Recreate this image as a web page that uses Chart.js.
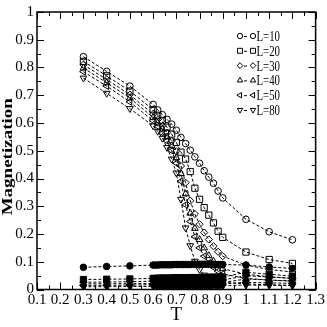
<!DOCTYPE html>
<html><head><meta charset="utf-8">
<script src="https://cdn.jsdelivr.net/npm/chart.js@4/dist/chart.umd.min.js"></script>
<style>html,body{margin:0;padding:0;background:#fff;overflow:hidden}</style>
</head><body>
<canvas id="c" width="327" height="327" style="width:327px;height:327px;display:block"></canvas>
<script>
// Temperatures (open-symbol series)
const T = [0.3,0.4,0.5,0.6,0.62,0.64,0.66,0.68,0.7,0.72,0.74,0.76,0.78,0.8,0.82,0.84,0.86,0.88,0.9,1.0,1.1,1.2];
// Temperatures (filled-symbol series, finer grid)
const TF = [0.3,0.4,0.5,
  0.60,0.61,0.62,0.63,0.64,0.65,0.66,0.67,0.68,0.69,
  0.70,0.71,0.72,0.73,0.74,0.75,0.76,0.77,0.78,0.79,
  0.80,0.81,0.82,0.83,0.84,0.85,0.86,0.87,0.88,0.89,
  0.90,1.0,1.1,1.2];
// Open-symbol series (legend)
const L10 = [0.839,0.786,0.733,0.667,0.647,0.630,0.613,0.596,0.574,0.548,0.526,0.502,0.478,0.455,0.428,0.405,0.383,0.355,0.330,0.253,0.208,0.179];
const L20 = [0.822,0.770,0.715,0.648,0.628,0.608,0.585,0.560,0.530,0.495,0.470,0.425,0.365,0.325,0.295,0.268,0.240,0.210,0.188,0.135,0.108,0.094];
const L30 = [0.810,0.757,0.702,0.632,0.612,0.590,0.565,0.535,0.498,0.445,0.385,0.320,0.272,0.235,0.205,0.180,0.156,0.136,0.120,0.088,0.072,0.063];
const L40 = [0.798,0.745,0.690,0.620,0.600,0.578,0.550,0.518,0.475,0.418,0.345,0.275,0.220,0.180,0.150,0.122,0.102,0.086,0.075,0.055,0.046,0.040];
const L50 = [0.785,0.733,0.676,0.608,0.588,0.564,0.535,0.500,0.455,0.390,0.305,0.245,0.190,0.150,0.120,0.096,0.080,0.066,0.056,0.040,0.034,0.030];
const L80 = [0.762,0.707,0.652,0.590,0.570,0.545,0.512,0.470,0.420,0.325,0.222,0.158,0.102,0.072,0.052,0.041,0.035,0.030,0.026,0.020,0.017,0.015];
// Filled-symbol series (no legend)
const F10 = [0.080,0.083,0.085,
  0.088,0.088,0.088,0.089,0.089,0.089,0.089,0.089,0.089,0.090,
  0.090,0.090,0.090,0.090,0.090,0.090,0.090,0.091,0.091,0.091,
  0.091,0.091,0.091,0.091,0.091,0.091,0.090,0.090,0.090,0.090,
  0.090,0.088,0.081,0.076];
const F20 = [0.036,0.037,0.038,
  0.040,0.040,0.040,0.041,0.041,0.041,0.041,0.041,0.041,0.042,
  0.042,0.042,0.042,0.042,0.042,0.042,0.043,0.043,0.043,0.043,
  0.043,0.043,0.043,0.043,0.044,0.044,0.044,0.044,0.044,0.045,
  0.045,0.062,0.055,0.048];
const F30 = [0.026,0.027,0.028,
  0.030,0.030,0.030,0.030,0.030,0.031,0.031,0.031,0.031,0.031,
  0.031,0.031,0.031,0.032,0.032,0.032,0.032,0.032,0.032,0.032,
  0.032,0.033,0.033,0.033,0.033,0.033,0.033,0.033,0.034,0.034,
  0.034,0.050,0.045,0.040];
const F40 = [0.020,0.021,0.021,
  0.022,0.022,0.022,0.022,0.022,0.022,0.023,0.023,0.023,0.023,
  0.023,0.023,0.023,0.023,0.023,0.024,0.024,0.024,0.024,0.024,
  0.024,0.024,0.024,0.024,0.025,0.025,0.025,0.025,0.025,0.025,
  0.025,0.038,0.034,0.031];
const F50 = [0.015,0.015,0.016,
  0.017,0.017,0.017,0.017,0.017,0.017,0.017,0.017,0.018,0.018,
  0.018,0.018,0.018,0.018,0.018,0.018,0.018,0.019,0.019,0.019,
  0.019,0.019,0.019,0.019,0.019,0.019,0.019,0.020,0.020,0.020,
  0.020,0.026,0.024,0.022];
const F80 = [0.010,0.010,0.011,
  0.011,0.011,0.011,0.011,0.011,0.012,0.012,0.012,0.012,0.012,
  0.012,0.012,0.012,0.012,0.013,0.013,0.013,0.013,0.013,0.013,
  0.013,0.013,0.013,0.013,0.013,0.014,0.014,0.014,0.014,0.014,
  0.014,0.016,0.015,0.014];

const seriesLabels = ['L=10','L=20','L=30','L=40','L=50','L=80'];
const openSeries = [L10,L20,L30,L40,L50,L80];
const filledSeries = [F10,F20,F30,F40,F50,F80];
const xTicks = [0.1,0.2,0.3,0.4,0.5,0.6,0.7,0.8,0.9,1.0,1.1,1.2,1.3];
const yTicks = [0,0.1,0.2,0.3,0.4,0.5,0.6,0.7,0.8,0.9,1];
const xTitle = 'T';
const yTitle = 'Magnetization';

const shapes = ['circle','rect','rectRot','triangle','triangle','triangle'];
const rotations = [0,0,0,0,-90,180];
const radii = [3.3,4.4,3.6,3.9,3.9,3.9];

function ds(xs, arr, i, filled, label) {
  return {
    label: label,
    data: xs.map((t, k) => ({x: t, y: arr[k]})),
    showLine: true,
    borderColor: '#000',
    borderWidth: 1,
    borderDash: [3, 2],
    pointStyle: shapes[i],
    pointRotation: rotations[i],
    pointRadius: radii[i],
    pointBorderWidth: 1,
    pointBorderColor: '#000',
    pointBackgroundColor: filled ? '#000' : 'rgba(0,0,0,0)',
    fill: false,
    tension: 0,
    legendHidden: filled
  };
}

const datasets = [];
filledSeries.forEach((a, i) => datasets.push(ds(TF, a, i, true, '')));
openSeries.forEach((a, i) => datasets.push(ds(T, a, i, false, seriesLabels[i])));

const FONT = '"Liberation Serif","Times New Roman",serif';

const framePlugin = {
  id: 'frame',
  afterDraw(chart) {
    const ctx = chart.ctx, a = chart.chartArea;
    const xs = chart.scales.x, ys = chart.scales.y;
    ctx.save();
    ctx.strokeStyle = '#000';
    ctx.lineWidth = 1.5;
    ctx.setLineDash([]);
    ctx.strokeRect(a.left, a.top, a.right - a.left, a.bottom - a.top);
    ctx.lineWidth = 1;
    ctx.beginPath();
    for (let k = 0; k < xTicks.length; k++) {
      const px = Math.round(xs.getPixelForValue(xTicks[k])) + 0.5;
      ctx.moveTo(px, a.bottom); ctx.lineTo(px, a.bottom - 7);
      ctx.moveTo(px, a.top); ctx.lineTo(px, a.top + 7);
      if (k < xTicks.length - 1) {
        const pm = Math.round(xs.getPixelForValue((xTicks[k] + xTicks[k + 1]) / 2)) + 0.5;
        ctx.moveTo(pm, a.bottom); ctx.lineTo(pm, a.bottom - 4);
        ctx.moveTo(pm, a.top); ctx.lineTo(pm, a.top + 4);
      }
    }
    for (let k = 0; k < yTicks.length; k++) {
      const py = Math.round(ys.getPixelForValue(yTicks[k])) + 0.5;
      ctx.moveTo(a.left, py); ctx.lineTo(a.left + 7, py);
      ctx.moveTo(a.right, py); ctx.lineTo(a.right - 7, py);
      if (k < yTicks.length - 1) {
        const pm = Math.round(ys.getPixelForValue((yTicks[k] + yTicks[k + 1]) / 2)) + 0.5;
        ctx.moveTo(a.left, pm); ctx.lineTo(a.left + 4, pm);
        ctx.moveTo(a.right, pm); ctx.lineTo(a.right - 4, pm);
      }
    }
    ctx.stroke();

    // y-axis title (condensed bold serif, rotated)
    ctx.save();
    ctx.translate(8.5, (a.top + a.bottom) / 2 + 6);
    ctx.rotate(-Math.PI / 2);
    ctx.scale(1, 0.8);
    ctx.fillStyle = '#000';
    ctx.font = 'bold 19px ' + FONT;
    ctx.textAlign = 'center';
    ctx.textBaseline = 'middle';
    ctx.fillText(yTitle, 0, 0);
    ctx.restore();

    // legend
    const lx = 240, ly = 36, dy = 14.8;
    chart.data.datasets.forEach((d) => {
      if (d.legendHidden) return;
      const i = seriesLabels.indexOf(d.label);
      const y = ly + i * dy;
      const opt = {pointStyle: d.pointStyle, rotation: d.pointRotation, radius: d.pointRadius * 0.8, borderWidth: 1};
      ctx.strokeStyle = '#000';
      ctx.fillStyle = 'rgba(0,0,0,0)';
      ctx.lineWidth = 1;
      Chart.helpers.drawPoint(ctx, opt, lx, y);
      Chart.helpers.drawPoint(ctx, opt, lx + 13, y);
      ctx.beginPath();
      ctx.setLineDash([3, 2]);
      ctx.moveTo(lx + 4, y + 0.5); ctx.lineTo(lx + 9, y + 0.5);
      ctx.stroke();
      ctx.setLineDash([]);
      ctx.save();
      ctx.translate(lx + 16.5, y);
      ctx.scale(0.72, 1);
      ctx.fillStyle = '#000';
      ctx.font = '15px ' + FONT;
      ctx.textBaseline = 'middle';
      ctx.textAlign = 'left';
      ctx.fillText(d.label, 0, 1);
      ctx.restore();
    });
    ctx.restore();
  }
};

new Chart(document.getElementById('c'), {
  type: 'line',
  data: {datasets},
  options: {
    responsive: false,
    devicePixelRatio: 1,
    animation: false,
    layout: {padding: {top: 8, right: 10, left: 0, bottom: 0}},
    plugins: {legend: {display: false}, tooltip: {enabled: false}},
    scales: {
      x: {
        type: 'linear', min: 0.1, max: 1.3,
        afterBuildTicks(s) { s.ticks = xTicks.map(v => ({value: v})); },
        afterFit(s) { s.height = 37.5; },
        grid: {display: false, drawTicks: false},
        border: {display: false},
        ticks: {color: '#000', padding: 2, maxRotation: 0, autoSkip: false,
          font: {family: FONT, size: 15},
          callback: v => String(Number(v.toFixed(2)))},
        title: {display: true, text: xTitle, color: '#000', font: {family: FONT, size: 19}, padding: {top: 0, bottom: 1}}
      },
      y: {
        type: 'linear', min: 0, max: 1,
        afterBuildTicks(s) { s.ticks = yTicks.map(v => ({value: v})); },
        afterFit(s) { s.width = 37; },
        grid: {display: false, drawTicks: false},
        border: {display: false},
        ticks: {color: '#000', padding: 3, autoSkip: false,
          font: {family: FONT, size: 15},
          callback: v => String(Number(v.toFixed(2)))},
        title: {display: false}
      }
    }
  },
  plugins: [framePlugin]
});
</script>
</body></html>
